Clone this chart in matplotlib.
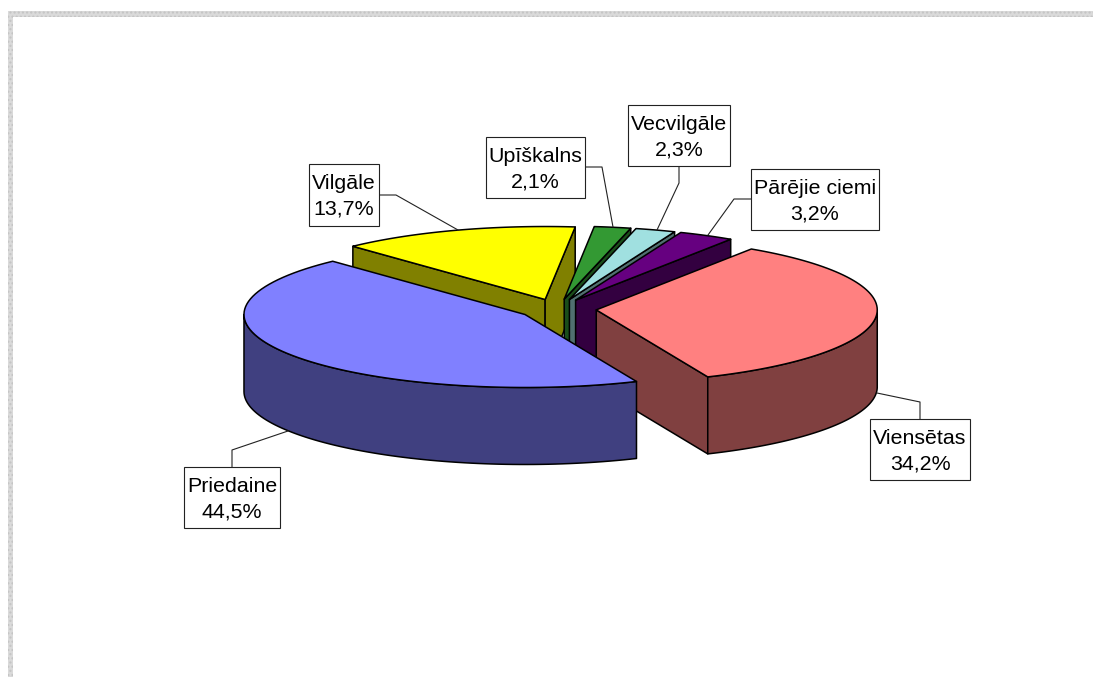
import numpy as np
import matplotlib
matplotlib.use('Agg')
import matplotlib.pyplot as plt
from matplotlib.patches import Polygon, Rectangle

# slices, clockwise from the start angle
names = ['Viensētas', 'Priedaine', 'Vilgāle', 'Upīškalns', 'Vecvilgāle', 'Pārējie ciemi']
shares = [34.2, 44.5, 13.7, 2.1, 2.3, 3.2]
share_labels = ['34,2%', '44,5%', '13,7%', '2,1%', '2,3%', '3,2%']

top_colors = ['#FF8080', '#8080FF', '#FFFF00', '#339933', '#A0E0E0', '#660080']
side_colors = ['#804040', '#404080', '#808000', '#1A4D1A', '#507070', '#330040']

# pie geometry, in pixels of the figure
CX, CY = 557.5, 309
RX, RY = 281, 73
DEPTH = 77
EXPLODE_X, EXPLODE_Y = 38.9, 10
START = 56.5

# label boxes (left, top, right, bottom) and their leader lines
boxes = {
    'Viensētas': (870, 419, 970, 480),
    'Priedaine': (184, 467, 280, 528),
    'Vilgāle': (309, 164, 379, 226),
    'Upīškalns': (486, 137, 585, 198),
    'Vecvilgāle': (628, 105, 730, 166),
    'Pārējie ciemi': (751, 169, 879, 230),
}
leaders = {
    'Viensētas': [(920, 419), (920, 402), (877, 393)],
    'Priedaine': [(232, 467), (232, 450), (288, 431)],
    'Vilgāle': [(379, 195), (396, 195), (458, 230)],
    'Upīškalns': [(585, 167), (602, 167), (613, 227)],
    'Vecvilgāle': [(679, 166), (679, 183), (657, 230)],
    'Pārējie ciemi': [(751, 199), (734, 199), (708, 235)],
}


def rim(cx, cy, a, b, dy=0):
    t = np.radians(np.linspace(a, b, 80))
    return np.column_stack([cx + RX * np.cos(t), cy - RY * np.sin(t) + dy])


def draw_slice(ax, i, a, b):
    mid = np.radians((a + b) / 2)
    cx = CX + EXPLODE_X * np.cos(mid)
    cy = CY - EXPLODE_Y * np.sin(mid)
    style = dict(facecolor=side_colors[i], edgecolor='black', linewidth=1.1,
                 joinstyle='round')

    # cut faces, only those turned to the viewer
    for ang, normal in ((a, a + 90), (b, b - 90)):
        if np.sin(np.radians(normal)) < 0:
            p = rim(cx, cy, ang, ang, 0)[0]
            ax.add_patch(Polygon([(cx, cy), p, (p[0], p[1] + DEPTH), (cx, cy + DEPTH)],
                                 **style))

    # outer wall, front half of the ellipse only
    lo, hi = max(b, -180), min(a, 0)
    if lo < hi:
        upper = rim(cx, cy, hi, lo)
        lower = rim(cx, cy, lo, hi, DEPTH)
        ax.add_patch(Polygon(np.vstack([upper, lower]), **style))

    ax.add_patch(Polygon(np.vstack([[(cx, cy)], rim(cx, cy, a, b)]),
                         facecolor=top_colors[i], edgecolor='black', linewidth=1.1,
                         joinstyle='round'))


fig = plt.figure(figsize=(10.93, 6.77), dpi=100)
ax = fig.add_axes([0, 0, 1, 1])
ax.set_xlim(0, 1093)
ax.set_ylim(677, 0)
ax.axis('off')

# textured frame at the left and top
ax.add_patch(Rectangle((8, 11), 5, 666, facecolor='#DADADA', edgecolor='#C4C4C4',
                       linewidth=0, hatch='....'))
ax.add_patch(Rectangle((8, 11), 1085, 6, facecolor='#DADADA', edgecolor='#C4C4C4',
                       linewidth=0, hatch='....'))

angles = START - np.cumsum([0] + shares) * 3.6
for i in [2, 3, 4, 5, 0, 1]:
    draw_slice(ax, i, angles[i], angles[i + 1])

for name, label in zip(names, share_labels):
    pts = leaders[name]
    ax.plot([p[0] for p in pts], [p[1] for p in pts], color='#222222', lw=0.8, zorder=5)
    x0, y0, x1, y1 = boxes[name]
    ax.add_patch(Rectangle((x0, y0), x1 - x0, y1 - y0, facecolor='white',
                           edgecolor='#222222', linewidth=0.8, zorder=6))
    ax.text((x0 + x1) / 2, (y0 + y1) / 2 + 1.5, name + '\n' + label, ha='center', va='center',
            fontsize=15.4, family='Liberation Sans', linespacing=1.42, zorder=7)

fig.savefig('out.png', dpi=100)
